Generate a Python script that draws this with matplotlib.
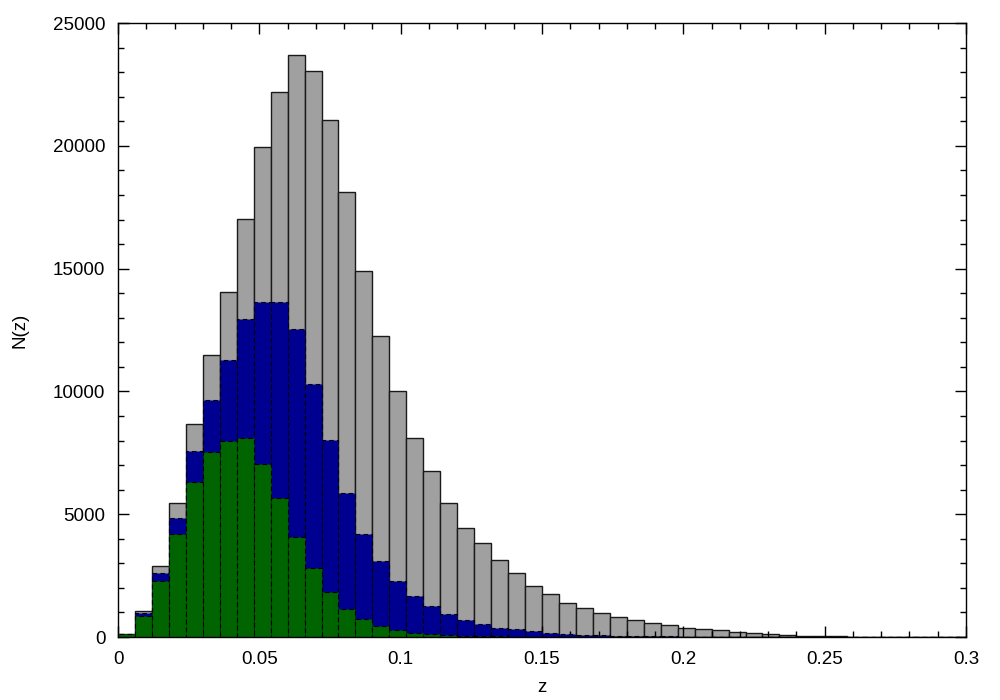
import matplotlib
matplotlib.use("Agg")
import matplotlib.pyplot as plt
from matplotlib.ticker import MultipleLocator
import numpy as np

plt.rcParams['font.family'] = ['Liberation Sans', 'DejaVu Sans']

bin_width = 0.006
bin_left = [round(i * bin_width, 3) for i in range(50)]

total = [120, 1070, 2900, 5470, 8660, 11490, 14050, 17040, 19960, 22190,
         23690, 23040, 21050, 18110, 14920, 12240, 10000, 8090, 6740, 5440,
         4450, 3830, 3150, 2590, 2060, 1740, 1370, 1170, 960, 800,
         680, 570, 500, 380, 340, 270, 200, 165, 130, 95,
         55, 40, 25, 15, 10, 5, 3, 2, 1, 0]

blue = [110, 990, 2590, 4860, 7560, 9650, 11300, 12940, 13660, 13640,
        12550, 10310, 8010, 5870, 4190, 3090, 2270, 1670, 1260, 950,
        680, 540, 360, 310, 230, 165, 122, 95, 70, 50,
        40, 30, 25, 18, 14, 10, 7, 5, 3, 2,
        1, 1, 0, 0, 0, 0, 0, 0, 0, 0]

green = [110, 868, 2290, 4190, 6300, 7540, 7980, 8100, 7030, 5680,
         4060, 2810, 1840, 1127, 720, 461, 271, 176, 122, 80,
         50, 35, 25, 15, 10, 7, 5, 3, 2, 1,
         1, 0, 0, 0, 0, 0, 0, 0, 0, 0,
         0, 0, 0, 0, 0, 0, 0, 0, 0, 0]

fig = plt.figure(figsize=(10, 7), dpi=100)
ax = fig.add_axes([0.118, 0.09, 0.848, 0.877])

ax.bar(bin_left, total, width=bin_width, align='edge', color='#a0a0a0',
       edgecolor='#1a1a1a', linewidth=1.0, zorder=2)
ax.bar(bin_left, blue, width=bin_width, align='edge', color='#000090',
       edgecolor='black', linewidth=0.8, linestyle=(0, (4, 3)), zorder=3)
ax.bar(bin_left, green, width=bin_width, align='edge', color='#006400',
       edgecolor='black', linewidth=0.8, linestyle=(0, (4, 3)), zorder=4)

ax.set_xlim(0, 0.3)
ax.set_ylim(0, 25000)
ax.xaxis.set_major_locator(MultipleLocator(0.05))
ax.xaxis.set_minor_locator(MultipleLocator(0.01))
ax.yaxis.set_major_locator(MultipleLocator(5000))
ax.yaxis.set_minor_locator(MultipleLocator(1000))
ax.set_xticks([0, 0.05, 0.1, 0.15, 0.2, 0.25, 0.3])
ax.set_xticklabels(['0', '0.05', '0.1', '0.15', '0.2', '0.25', '0.3'])
ax.tick_params(which='both', direction='in', top=True, right=True,
               labelsize=13.5, width=1.0, color='black')
ax.tick_params(which='major', length=8)
ax.tick_params(axis='x', which='major', pad=10)
ax.tick_params(axis='y', which='major', pad=9)
ax.tick_params(which='minor', length=4)
for s in ax.spines.values():
    s.set_linewidth(1.0)
    s.set_zorder(5)
ax.set_axisbelow(False)

ax.set_xlabel('z', fontsize=13.5, labelpad=8)
ax.set_ylabel('N(z)', fontsize=13.5, labelpad=18)

fig.savefig('out.png', dpi=100)
